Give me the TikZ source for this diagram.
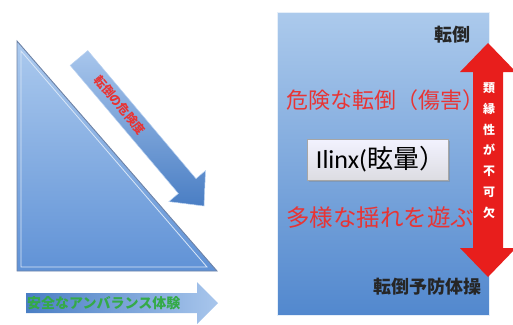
\documentclass[tikz,border=0pt]{standalone}
\usepackage{fontspec}
\newfontfamily\jp{Noto Sans CJK JP}
\newfontfamily\lat{Carlito}
\usetikzlibrary{shadows}
\definecolor{tritop}{RGB}{172,202,238}
\definecolor{tribot}{RGB}{96,146,214}
\definecolor{rectop}{RGB}{172,202,236}
\definecolor{recbot}{RGB}{82,136,206}
\definecolor{arrdark}{RGB}{74,126,196}
\definecolor{arrlight}{RGB}{168,198,236}
\definecolor{redtxt}{RGB}{232,52,52}
\definecolor{redarr}{RGB}{232,30,28}
\definecolor{greentxt}{RGB}{52,170,72}
\definecolor{edgegrey}{RGB}{110,130,165}
\tikzset{
  redlabel/.style={text=redtxt, inner sep=0pt, anchor=west},
  blacklabel/.style={text=black!85, inner sep=0pt, font=\jp\bfseries\fontsize{18}{18}\selectfont},
}
\begin{document}
\begin{tikzpicture}[x=1pt,y=-1pt]
\useasboundingbox (0,0) rectangle (513,324);
\clip (0,0) rectangle (513,324);
% triangle
\coordinate (t1) at (17,41);
\coordinate (t2) at (17,271);
\coordinate (t3) at (217,271);
\shade[top color=tritop, bottom color=tribot, draw=edgegrey, line width=0.9pt] (t1) -- (t2) -- (t3) -- cycle;
\draw[white!55!tritop, line width=0.8pt] (21,51) -- (21,267) -- (207,267) -- cycle;
% diagonal arrow
\coordinate (d1) at (87.8,50.6);
\coordinate (d2) at (196,178.7);
\coordinate (d3) at (205.5,170.6);
\coordinate (d4) at (204,206);
\coordinate (d5) at (168.9,201.6);
\coordinate (d6) at (178.4,193.5);
\coordinate (d7) at (70.2,65.4);
\shade[top color=arrlight, bottom color=arrdark, draw=arrlight!80!white, line width=0.5pt]
  (d1) -- (d2) -- (d3) -- (d4) -- (d5) -- (d6) -- (d7) -- cycle;
\node[rotate=-50, text=redtxt, inner sep=0pt, font=\jp\bfseries\fontsize{12}{12}\selectfont] (danger) at (120,105) {転倒の危険度};
% bottom arrow
\coordinate (b1) at (26,293);
\coordinate (b2) at (197,293);
\coordinate (b3) at (197,282);
\coordinate (b4) at (218,303);
\coordinate (b5) at (197,324);
\coordinate (b6) at (197,313);
\coordinate (b7) at (26,313);
\shade[left color=arrdark, right color=arrlight] (b1) -- (b2) -- (b3) -- (b4) -- (b5) -- (b6) -- (b7) -- cycle;
\node[anchor=west, text=greentxt, inner sep=0pt, font=\jp\bfseries\fontsize{14}{14}\selectfont] (safe) at (27,303) {安全なアンバランス体験};
% right panel
\shade[top color=rectop, bottom color=recbot, draw=white!70!rectop, line width=0.6pt] (277,12) rectangle (489,315);
\node[blacklabel] (fall) at (452,35) {転倒};
\node[redlabel, font=\jp\fontsize{22}{22}\selectfont] (harm) at (286,100) {危険な転倒（傷害）};
\node[redlabel, font=\jp\fontsize{23.5}{23.5}\selectfont] (play) at (286,218) {多様な揺れを遊ぶ};
\node[draw=gray!70, line width=0.5pt, top color=white!95!blue, bottom color=blue!8!gray!25, minimum width=141pt, minimum height=41pt, inner sep=0pt,
  drop shadow={opacity=0.35, shadow xshift=1.5pt, shadow yshift=-1.5pt}] (ilinx) at (377.5,159.5)
  {\fontsize{26}{26}\selectfont\hspace*{6pt}{\lat Ilinx(}{\jp 眩暈）}};
\node[blacklabel] (prev) at (427,287) {転倒予防体操};
% red double arrow
\coordinate (r1) at (488,43);
\coordinate (r2) at (516,72);
\coordinate (r3) at (503,72);
\coordinate (r4) at (503,248);
\coordinate (r5) at (516,248);
\coordinate (r6) at (488,277);
\coordinate (r7) at (460,248);
\coordinate (r8) at (473,248);
\coordinate (r9) at (473,72);
\coordinate (r10) at (460,72);
\fill[redarr] (r1) -- (r2) -- (r3) -- (r4) -- (r5) -- (r6) -- (r7) -- (r8) -- (r9) -- (r10) -- cycle;
\node[text=white, inner sep=0pt, align=center, font=\jp\bfseries\fontsize{12}{20.8}\selectfont] (kin) at (489,150.5)
  {類\\縁\\性\\が\\不\\可\\欠};
\end{tikzpicture}
\end{document}
